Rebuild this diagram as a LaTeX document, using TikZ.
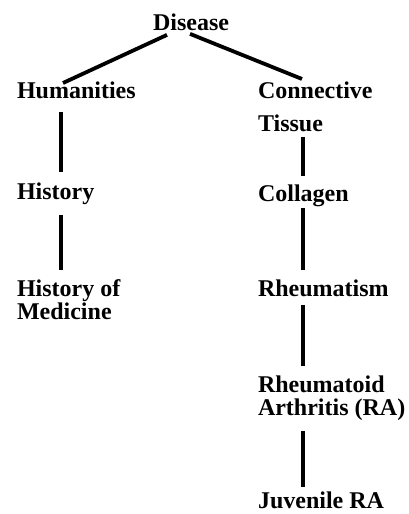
\documentclass[tikz,border=0pt]{standalone}
\usepackage{fontspec}
\setmainfont{Liberation Serif}
\usetikzlibrary{positioning}

\begin{document}
\begin{tikzpicture}[
    x=1bp, y=1bp,
    term/.style = {inner sep=0pt, outer sep=0pt, align=left, font=\bfseries\fontsize{24bp}{23bp}\selectfont},
    branch/.style = {draw, line width=3.2bp},
    fork/.style = {draw, line width=3.8bp},
]
\useasboundingbox (0,0) rectangle (408,514);

% Root
\node [term, anchor=north] (disease) at (191,500) {Disease};

% Left branch
\node [term, anchor=north west] (hum) at (17,432) {Humanities};
\node [term, below=101bp of hum.north west, anchor=north west] (hist) {History};
\node [term, below=97bp of hist.north west, anchor=north west] (histmed) {History of\\Medicine};

% Right branch
\node [term, anchor=north west] (conn) at (258,432) {Connective\\[10bp]Tissue};
\node [term, below=103bp of conn.north west, anchor=north west] (coll) {Collagen};
\node [term, below=95bp of coll.north west, anchor=north west] (rheum) {Rheumatism};
\node [term, below=96bp of rheum.north west, anchor=north west] (ra) {Rheumatoid\\Arthritis (RA)};
\node [term, below=116bp of ra.north west, anchor=north west] (jra) {Juvenile RA};

% Paths
\path [fork] ([xshift=-24bp, yshift=-4bp]disease.south) -- ([xshift=46bp, yshift=-1bp]hum.north west);
\path [fork] ([xshift=-1bp, yshift=-3bp]disease.south) -- ([xshift=44bp, yshift=3bp]conn.north west);

\path [branch] ([xshift=44bp, yshift=-13bp]hum.south west) -- ([xshift=44bp, yshift=11bp]hist.north west);
\path [branch] ([xshift=44bp, yshift=-10bp]hist.south west) -- ([xshift=44bp, yshift=10bp]histmed.north west);

\path [branch] ([xshift=45bp, yshift=-5bp]conn.south west) -- ([xshift=45bp, yshift=9bp]coll.north west);
\path [branch] ([xshift=45bp, yshift=-1bp]coll.south west) -- ([xshift=45bp, yshift=10bp]rheum.north west);
\path [branch] ([xshift=45bp, yshift=-8bp]rheum.south west) -- ([xshift=45bp, yshift=10bp]ra.north west);
\path [branch] ([xshift=45bp, yshift=-10bp]ra.south west) -- ([xshift=45bp, yshift=5bp]jra.north west);

\end{tikzpicture}
\end{document}
